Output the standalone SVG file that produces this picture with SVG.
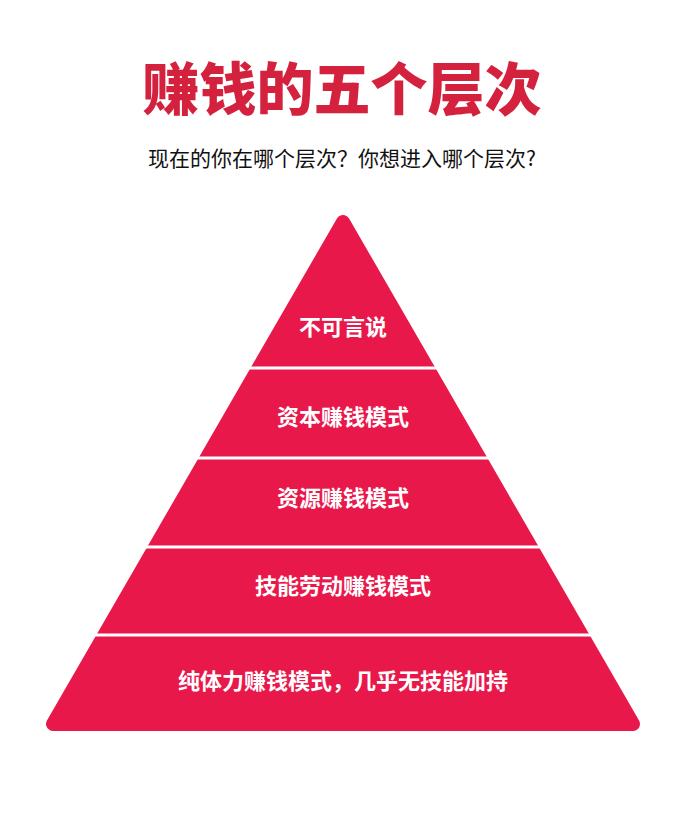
<svg xmlns="http://www.w3.org/2000/svg" width="685" height="813" viewBox="0 0 685 813">
<style>
.t{font-family:"Noto Sans CJK SC","Noto Sans",sans-serif;font-weight:700;fill:#fff;font-size:22px;text-anchor:middle}
.sep{stroke:#fff;stroke-width:3}
</style>
<rect width="685" height="813" fill="#fff"/>
<text x="342" y="110" font-family="Noto Sans CJK SC,sans-serif" font-weight="900" font-size="57" fill="#d3213e" text-anchor="middle">赚钱的五个层次</text>
<text x="342" y="166" font-family="Noto Sans CJK SC,sans-serif" font-size="21" fill="#111" text-anchor="middle">现在的你在哪个层次？你想进入哪个层次?</text>
<g id="pyramid">
<polygon points="343,222 53,724 633,724" fill="#e8194a" stroke="#e8194a" stroke-width="14" stroke-linejoin="round"/>
</g>
<g id="connectors">
<line class="sep" x1="150" y1="368" x2="540" y2="368"/>
<line class="sep" x1="100" y1="458" x2="590" y2="458"/>
<line class="sep" x1="50" y1="547" x2="640" y2="547"/>
<line class="sep" x1="0" y1="635" x2="685" y2="635"/>
</g>
<g id="n1"><text class="t" x="343" y="335">不可言说</text></g>
<g id="n2"><text class="t" x="343" y="425">资本赚钱模式</text></g>
<g id="n3"><text class="t" x="343" y="506">资源赚钱模式</text></g>
<g id="n4"><text class="t" x="343" y="594">技能劳动赚钱模式</text></g>
<g id="n5"><text class="t" x="343" y="689">纯体力赚钱模式，几乎无技能加持</text></g>
</svg>
